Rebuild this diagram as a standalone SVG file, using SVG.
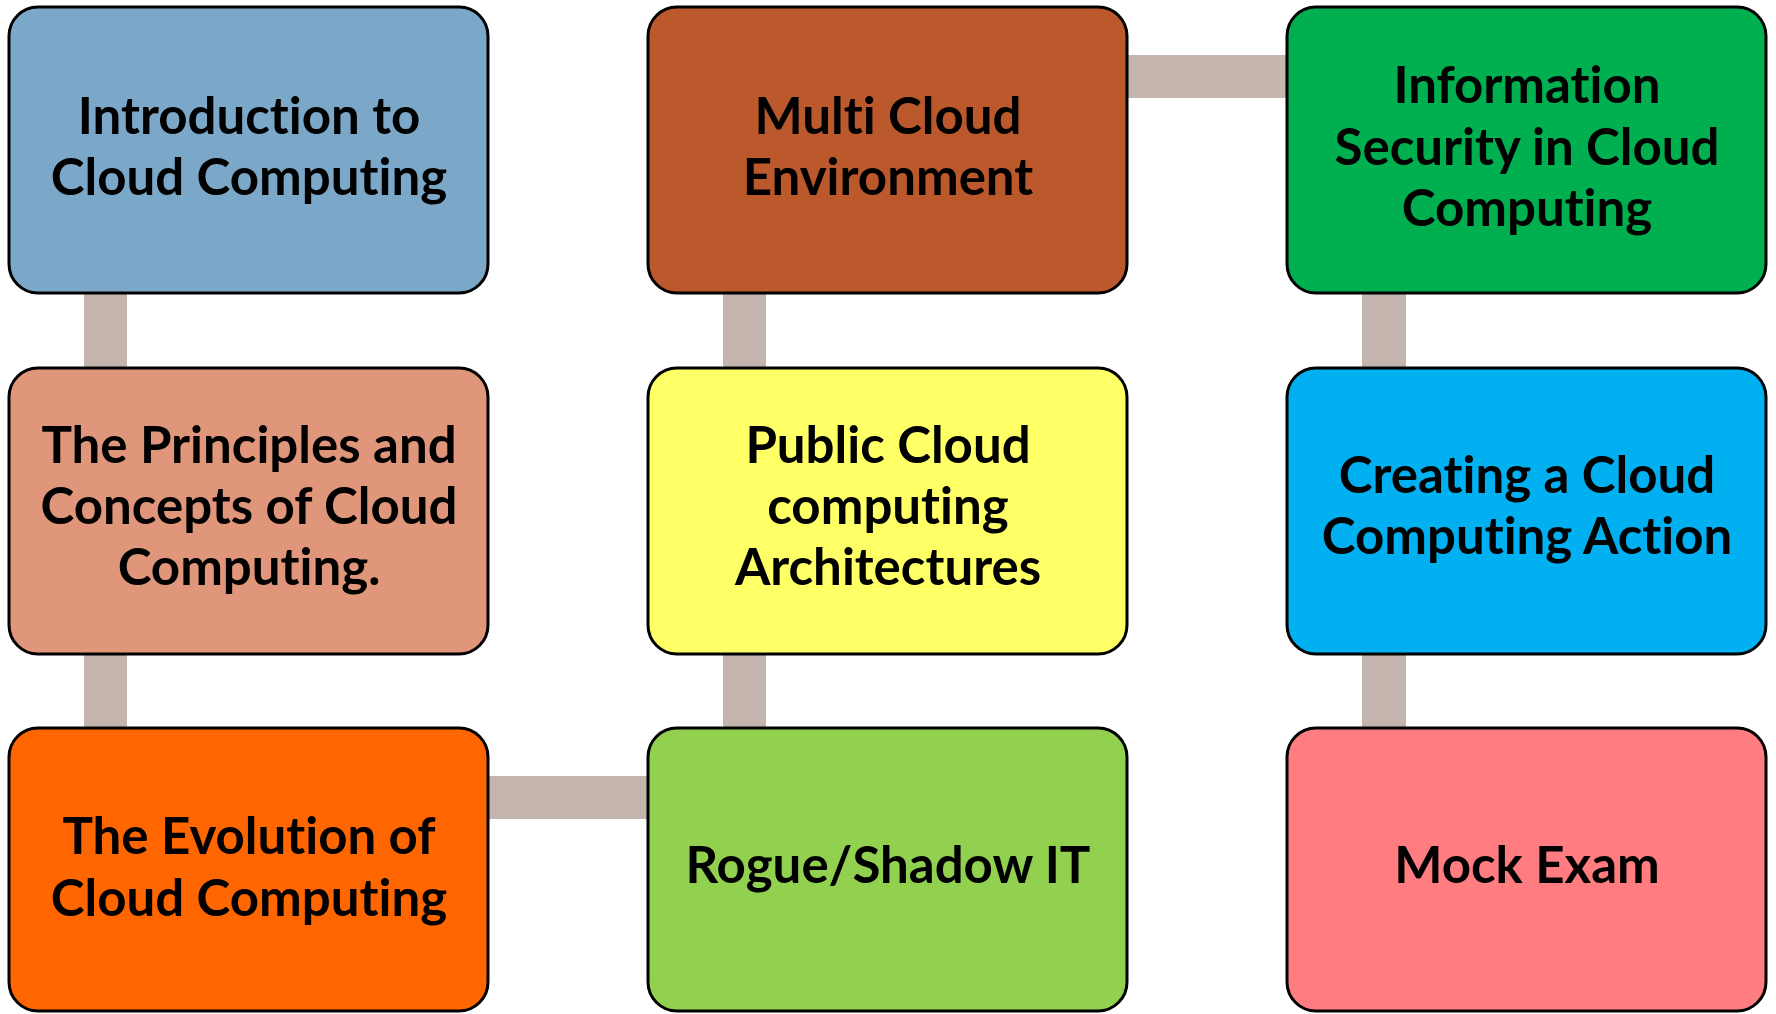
<svg xmlns="http://www.w3.org/2000/svg" width="1776" height="1014" viewBox="0 0 1776 1014">
<style>
.box{stroke:#000;stroke-width:3}
.t{font-family:Lato,"Open Sans","Liberation Sans",sans-serif;font-weight:700;font-size:51px;fill:#000;text-anchor:middle;font-variant-ligatures:none;font-feature-settings:"liga" 0}
.c{fill:#C4B5AE}
</style>
<rect width="1776" height="1014" fill="#fff"/>
<g id="connectors">
<rect class="c" x="84" y="290" width="43" height="82"/>
<rect class="c" x="84" y="650" width="43" height="82"/>
<rect class="c" x="723" y="290" width="43" height="82"/>
<rect class="c" x="723" y="650" width="43" height="82"/>
<rect class="c" x="1362" y="290" width="44" height="82"/>
<rect class="c" x="1362" y="650" width="44" height="82"/>
<rect class="c" x="485" y="776" width="168" height="43"/>
<rect class="c" x="1123" y="55" width="169" height="43"/>
</g>
<g id="n1"><rect class="box" x="9" y="7" width="479" height="286" rx="29" fill="#7BA8C8"/>
<text class="t" x="249" y="134">Introduction to</text><text class="t" x="249" y="195">Cloud Computing</text></g>
<g id="n2"><rect class="box" x="9" y="368" width="479" height="286" rx="29" fill="#E0967A"/>
<text class="t" x="249" y="463">The Principles and</text><text class="t" x="249" y="524">Concepts of Cloud</text><text class="t" x="249" y="585">Computing.</text></g>
<g id="n3"><rect class="box" x="9" y="728" width="479" height="283" rx="29" fill="#FF6600"/>
<text class="t" x="249" y="854">The Evolution of</text><text class="t" x="249" y="916">Cloud Computing</text></g>
<g id="n4"><rect class="box" x="648" y="7" width="479" height="286" rx="29" fill="#BB582C"/>
<text class="t" x="888" y="134">Multi Cloud</text><text class="t" x="888" y="195">Environment</text></g>
<g id="n5"><rect class="box" x="648" y="368" width="479" height="286" rx="29" fill="#FFFF66"/>
<text class="t" x="888" y="463">Public Cloud</text><text class="t" x="888" y="524">computing</text><text class="t" x="888" y="585">Architectures</text></g>
<g id="n6"><rect class="box" x="648" y="728" width="479" height="283" rx="29" fill="#92D050"/>
<text class="t" x="888" y="883">Rogue/Shadow IT</text></g>
<g id="n7"><rect class="box" x="1287" y="7" width="479" height="286" rx="29" fill="#00B050"/>
<text class="t" x="1527" y="103">Information</text><text class="t" x="1527" y="165">Security in Cloud</text><text class="t" x="1527" y="226">Computing</text></g>
<g id="n8"><rect class="box" x="1287" y="368" width="479" height="286" rx="29" fill="#00B0F0"/>
<text class="t" x="1527" y="493">Creating a Cloud</text><text class="t" x="1527" y="554">Computing Action</text></g>
<g id="n9"><rect class="box" x="1287" y="728" width="479" height="283" rx="29" fill="#FF7C80"/>
<text class="t" x="1527" y="883">Mock Exam</text></g>
</svg>
